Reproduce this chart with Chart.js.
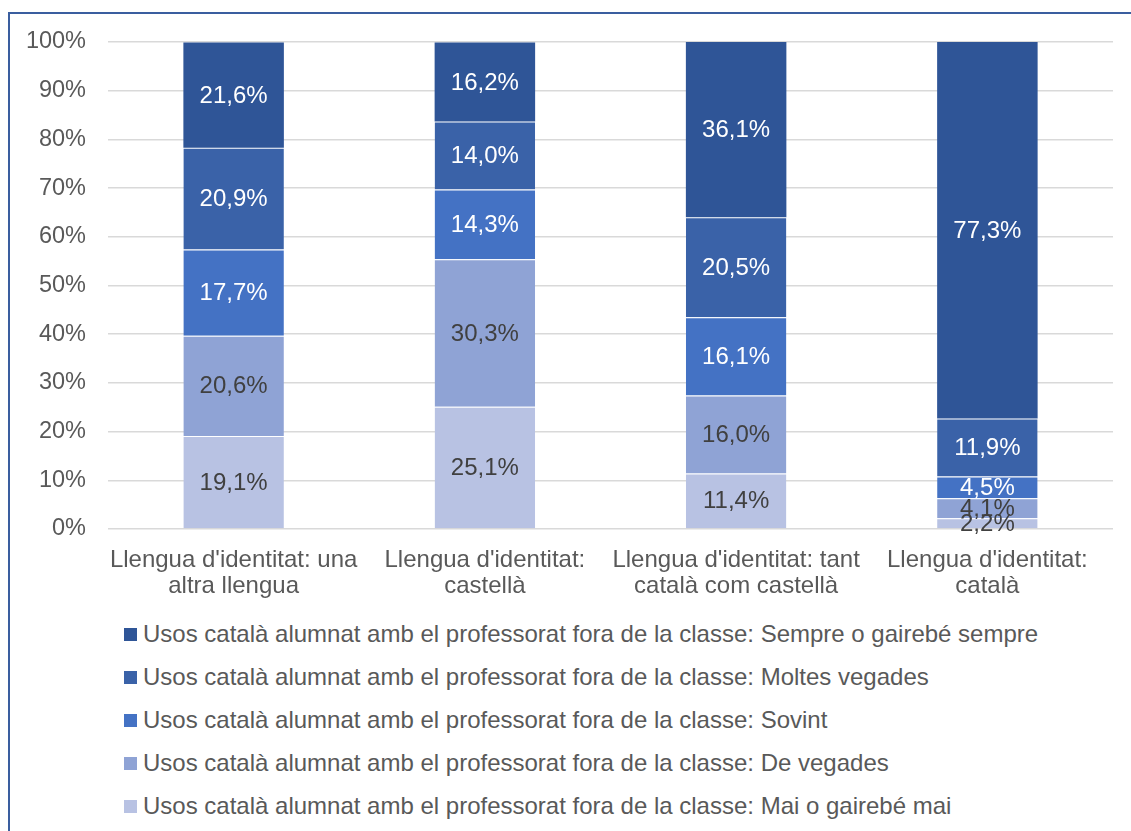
<!DOCTYPE html>
<html lang="ca">
<head>
  <meta charset="UTF-8" />
  <title>Usos del català amb el professorat fora de la classe</title>
  <script src="https://cdn.jsdelivr.net/npm/chart.js"></script>
  <style>
    html, body { margin: 0; padding: 0; background: #fff; overflow: hidden; }
    body { width: 1131px; height: 831px; position: relative; font-family: "Liberation Sans", Arial, sans-serif; }
    .frame {
      position: absolute; left: 8px; top: 12px; width: 1200px; height: 900px;
      border-left: 2px solid #3A5E9F; border-top: 2px solid #3A5E9F;
    }
    #chartCanvas { position: absolute; left: 11px; top: 13px; }
    #legend { position: absolute; left: 124px; top: 612px; }
    .legend-item { height: 43px; line-height: 43px; font-size: 24px; color: #595959; white-space: nowrap; }
    .legend-box { display: inline-block; width: 13px; height: 13px; margin-right: 6px; vertical-align: 1px; }
  </style>
</head>
<body>
  <div class="frame"></div>
  <canvas id="chartCanvas" width="1120" height="591"></canvas>
  <div id="legend"></div>

<script>
const categories = [
  ["Llengua d'identitat: una", "altra llengua"],
  ["Llengua d'identitat:", "castellà"],
  ["Llengua d'identitat: tant", "català com castellà"],
  ["Llengua d'identitat:", "català"]
];

const prefix = "Usos català alumnat amb el professorat fora de la classe: ";

// de baix a dalt de la columna
const maiValues     = [19.1, 25.1, 11.4, 2.2];
const vegadesValues = [20.6, 30.3, 16.0, 4.1];
const sovintValues  = [17.7, 14.3, 16.1, 4.5];
const moltesValues  = [20.9, 14.0, 20.5, 11.9];
const sempreValues  = [21.6, 16.2, 36.1, 77.3];

const yTicks = [0, 10, 20, 30, 40, 50, 60, 70, 80, 90, 100];

const series = [
  { label: prefix + "Mai o gairebé mai",       data: maiValues,     color: "#B8C2E3", text: "#404040" },
  { label: prefix + "De vegades",              data: vegadesValues, color: "#8FA3D5", text: "#404040" },
  { label: prefix + "Sovint",                  data: sovintValues,  color: "#4472C4", text: "#FFFFFF" },
  { label: prefix + "Moltes vegades",          data: moltesValues,  color: "#3A62A8", text: "#FFFFFF" },
  { label: prefix + "Sempre o gairebé sempre", data: sempreValues,  color: "#2F5597", text: "#FFFFFF" }
];

const FONT = '"Liberation Sans", Arial, sans-serif';

// etiquetes de valor al centre de cada segment
const valueLabels = {
  id: 'valueLabels',
  afterDatasetsDraw(chart) {
    const c = chart.ctx;
    c.save();
    c.font = '24px ' + FONT;
    c.textAlign = 'center';
    c.textBaseline = 'middle';
    chart.data.datasets.forEach((ds, i) => {
      const meta = chart.getDatasetMeta(i);
      meta.data.forEach((bar, j) => {
        const v = ds.data[j];
        c.fillStyle = series[i].text;
        c.fillText(v.toFixed(1).replace('.', ',') + '%', bar.x, (bar.y + bar.base) / 2 + 1);
      });
    });
    c.restore();
  }
};

const chart = new Chart(document.getElementById('chartCanvas'), {
  type: 'bar',
  data: {
    labels: categories,
    datasets: series.map((s, i) => ({
      label: s.label,
      data: s.data,
      backgroundColor: s.color,
      borderColor: 'rgba(255,255,255,0.25)',
      // línia fina entre segments, no a dalt de tot
      borderWidth: { top: i < series.length - 1 ? 1 : 0 },
      borderSkipped: false,
      barPercentage: 0.4,
      categoryPercentage: 1.0
    }))
  },
  options: {
    responsive: false,
    animation: false,
    layout: { padding: { left: 11, top: 29, right: 18, bottom: 0 } },
    scales: {
      x: {
        stacked: true,
        grid: { display: false, drawTicks: false },
        border: { display: false },
        ticks: {
          color: '#595959',
          padding: 18,
          maxRotation: 0,
          autoSkip: false,
          font: { family: FONT, size: 24, lineHeight: 1.1 }
        },
        afterFit(scale) { scale.height = 75; }
      },
      y: {
        stacked: true,
        min: 0,
        max: 100,
        afterBuildTicks(scale) { scale.ticks = yTicks.map(v => ({ value: v })); },
        grid: { color: '#D9D9D9', lineWidth: 1.5, drawTicks: false },
        border: { display: false },
        ticks: {
          color: '#595959',
          padding: 22,
          font: { family: FONT, size: 23.5 },
          callback: v => v + '%'
        },
        afterFit(scale) {
          scale.width = 86;
          // el padding de les etiquetes no ha d'empènyer l'àrea cap avall
          scale.paddingTop = 12;
          scale.paddingBottom = 12;
        }
      }
    },
    plugins: {
      legend: { display: false },
      tooltip: { enabled: false }
    }
  },
  plugins: [valueLabels]
});

// llegenda: de dalt a baix, com l'apilament
const legendDiv = document.getElementById('legend');
series.slice().reverse().forEach(s => {
  const item = document.createElement('div');
  item.className = 'legend-item';
  const box = document.createElement('span');
  box.className = 'legend-box';
  box.style.background = s.color;
  item.appendChild(box);
  item.appendChild(document.createTextNode(s.label));
  legendDiv.appendChild(item);
});
</script>
</body>
</html>
